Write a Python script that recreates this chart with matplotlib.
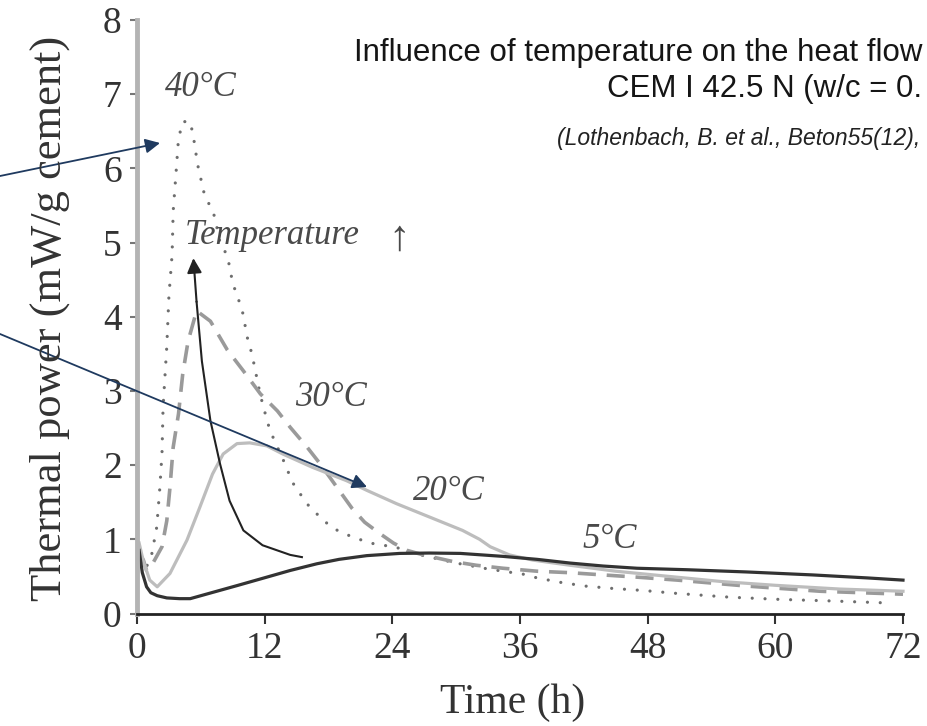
import matplotlib
matplotlib.use("Agg")
import matplotlib.pyplot as plt
from matplotlib.patches import FancyArrowPatch

# 40 C (dotted)
t40 = [0.3, 0.6, 0.9, 1.4, 1.85, 2.15, 2.35, 2.45, 2.8, 3.0, 3.3, 3.4, 3.7, 3.9, 4.3, 5.0, 5.3, 5.7, 6.3,
       7.3, 7.8, 8.5, 9.0, 9.5, 9.9, 10.4, 10.8, 11.6, 12.3, 12.8, 13.9, 14.6, 15.3, 16.1, 17.2,
       18.3, 19.4, 20.7, 21.9, 23.1, 24.2, 26.0, 30.0, 33.0, 36.3, 37.6, 39.8, 42.1, 44.5, 47.6, 50.8,
       55.7, 60.4, 65.1, 71.0]
p40 = [0.75, 0.72, 0.63, 0.81, 1.16, 1.7, 2.16, 2.78, 3.6, 4.28, 4.84, 5.42, 6.0, 6.4, 6.63, 6.63, 6.43,
       6.05, 5.67, 5.35, 5.0, 4.82, 4.45, 4.25, 4.08, 3.7, 3.5, 2.94, 2.56, 2.37, 2.02, 1.77,
       1.62, 1.46, 1.3, 1.16, 1.08, 1.01, 0.95, 0.92, 0.9, 0.81, 0.68, 0.6, 0.53, 0.48, 0.42, 0.37,
       0.34, 0.31, 0.27, 0.22, 0.19, 0.17, 0.14]

# 30 C (dashed)
t30 = [0.3, 0.6, 0.9, 1.5, 2.35, 2.8, 3.1, 3.4, 3.9, 4.3, 4.8, 5.6, 6.9, 8.5, 10.0, 11.6, 13.2, 14.4,
       16.0, 17.2, 18.9, 20.2, 21.4, 22.8, 24.1, 25.4, 26.9, 29.7, 31.9, 34.4, 37.6, 40.7, 43.8,
       47.0, 50.8, 57.3, 64.2, 72.0]
p30 = [0.8, 0.72, 0.58, 0.68, 0.9, 1.25, 1.7, 2.24, 2.69, 3.23, 3.67, 4.08, 3.94, 3.55, 3.27, 2.96,
       2.73, 2.51, 2.24, 2.02, 1.68, 1.42, 1.23, 1.08, 0.95, 0.85, 0.79, 0.7, 0.65, 0.61, 0.57,
       0.55, 0.52, 0.49, 0.45, 0.37, 0.3, 0.26]

# 20 C (light solid)
t20 = [0.2, 0.6, 1.2, 1.9, 3.1, 4.7, 5.9, 7.1, 8.1, 9.4, 10.6, 12.2, 13.7, 16.5, 19.7, 21.6, 24.4,
       27.5, 30.6, 32.2, 33.2, 35.0, 37.2, 40.7, 45.0, 50.0, 55.0, 60.0, 66.0, 72.0]
p20 = [0.95, 0.7, 0.45, 0.36, 0.54, 0.99, 1.43, 1.88, 2.15, 2.29, 2.3, 2.26, 2.15, 1.97, 1.79, 1.66,
       1.48, 1.3, 1.12, 1.0, 0.9, 0.79, 0.72, 0.65, 0.57, 0.5, 0.43, 0.38, 0.33, 0.3]

# 5 C (dark solid)
t5 = [0.2, 0.5, 0.9, 1.3, 1.9, 2.8, 4.0, 5.0, 6.0, 7.5, 9.5, 12.2, 14.4, 16.9, 19.0, 21.6, 24.7, 27.5,
      30.4, 34.4, 37.6, 40.7, 43.8, 47.0, 51.7, 57.3, 63.5, 68.6, 72.0]
p5 = [0.85, 0.55, 0.36, 0.28, 0.24, 0.21, 0.2, 0.2, 0.24, 0.3, 0.38, 0.49, 0.58, 0.67, 0.73, 0.78,
      0.81, 0.815, 0.81, 0.77, 0.73, 0.68, 0.64, 0.61, 0.59, 0.56, 0.52, 0.48, 0.45]

# black "Temperature" arrow path
tArr = [15.5, 14.4, 11.8, 10.0, 8.7, 7.8, 6.9, 6.1, 5.6, 5.3]
pArr = [0.76, 0.79, 0.92, 1.12, 1.52, 2.02, 2.6, 3.4, 4.2, 4.79]

# labels: text, x, y
labels = [("40°C", 2.6, 6.97), ("30°C", 14.85, 2.8), ("20°C", 25.9, 1.53), ("5°C", 41.9, 0.88)]

# header lines as visible in the source
title1 = "Influence of temperature on the heat flow"
title2 = "CEM I 42.5 N (w/c = 0."
source = "(Lothenbach, B. et al., Beton55(12),"

serif = ["Liberation Serif", "DejaVu Serif"]
grey_txt = "#4a4a4a"

fig = plt.figure(figsize=(9.27, 7.26), dpi=100)
ax = fig.add_axes([137 / 927, 1 - 613.5 / 726, (903 - 137) / 927, (613.5 - 20) / 726])
ax.set_xlim(0, 72)
ax.set_ylim(0, 8)

ax.plot(t40, p40, color="#6e6e6e", lw=2.3, linestyle=(0, (0.01, 4.0)), dash_capstyle="round",
        clip_on=False)
ax.plot(t30, p30, color="#9a9a9a", lw=2.6, linestyle=(0, (5, 3)), clip_on=False)
ax.plot(t20, p20, color="#bdbdbd", lw=2.3, clip_on=False)
ax.plot(t5, p5, color="#333333", lw=2.3, clip_on=False)

ax.plot(tArr[:-1], pArr[:-1], color="#222222", lw=1.5)
ax.annotate("", xy=(tArr[-1], pArr[-1]), xytext=(tArr[-2], pArr[-2]),
            arrowprops=dict(arrowstyle="-|>", color="#222222", lw=1.5, mutation_scale=22,
                            shrinkA=0, shrinkB=0))

for txt, x, y in labels:
    ax.text(x, y, txt, fontsize=25, style="italic", color=grey_txt, family=serif,
            ha="left", va="baseline")
ax.text(4.5, 4.98, "Temperature", fontsize=25, style="italic", color=grey_txt, family=serif,
        ha="left", va="baseline")
ax.text(23.6, 4.9, "↑", fontsize=31, color=grey_txt, family=serif, ha="left", va="baseline")

for s in ["top", "right"]:
    ax.spines[s].set_visible(False)
ax.spines["left"].set_color("#b4b4b4")
ax.spines["left"].set_linewidth(3.5)
ax.spines["bottom"].set_color("#222222")
ax.spines["bottom"].set_linewidth(2)

ax.set_xticks(range(0, 73, 12))
ax.set_yticks(range(0, 9))
ax.tick_params(axis="both", labelsize=27, colors="#333333", width=1.5, pad=6)
ax.tick_params(axis="x", length=7)
ax.tick_params(axis="y", length=5, colors="#777777")
for lab in ax.get_xticklabels() + ax.get_yticklabels():
    lab.set_family(serif)
    lab.set_color("#333333")

fig.text(50 / 927, 1 - 318 / 726, "Thermal power (mW/g cement)", rotation=90, fontsize=32,
         family=serif, color="#333333", ha="center", va="center")
fig.text(513 / 927, 1 - 703 / 726, "Time (h)", fontsize=30, family=serif, color="#333333",
         ha="center", va="center")

# title block, right-aligned just inside the edge
fig.text(922 / 927, 1 - 61 / 726, title1, fontsize=22.5,
         family="Liberation Sans", color="#151515", ha="right", va="baseline")
fig.text(922 / 927, 1 - 97 / 726, title2, fontsize=22.5,
         family="Liberation Sans", color="#151515", ha="right", va="baseline")
fig.text(920 / 927, 1 - 145 / 726, source, fontsize=16.5,
         family="Liberation Sans", style="italic", color="#222222", ha="right", va="baseline")

# navy arrows drawn across the figure
navy = "#1f3a5f"
for start, end in [((0, 176), (160, 143)), ((0, 334), (367, 487))]:
    fig.add_artist(FancyArrowPatch(
        (start[0] / 927, 1 - start[1] / 726), (end[0] / 927, 1 - end[1] / 726),
        transform=fig.transFigure, arrowstyle="-|>", mutation_scale=22, color=navy, lw=1.3,
        shrinkA=0, shrinkB=0))

fig.savefig("out.png", dpi=100)
